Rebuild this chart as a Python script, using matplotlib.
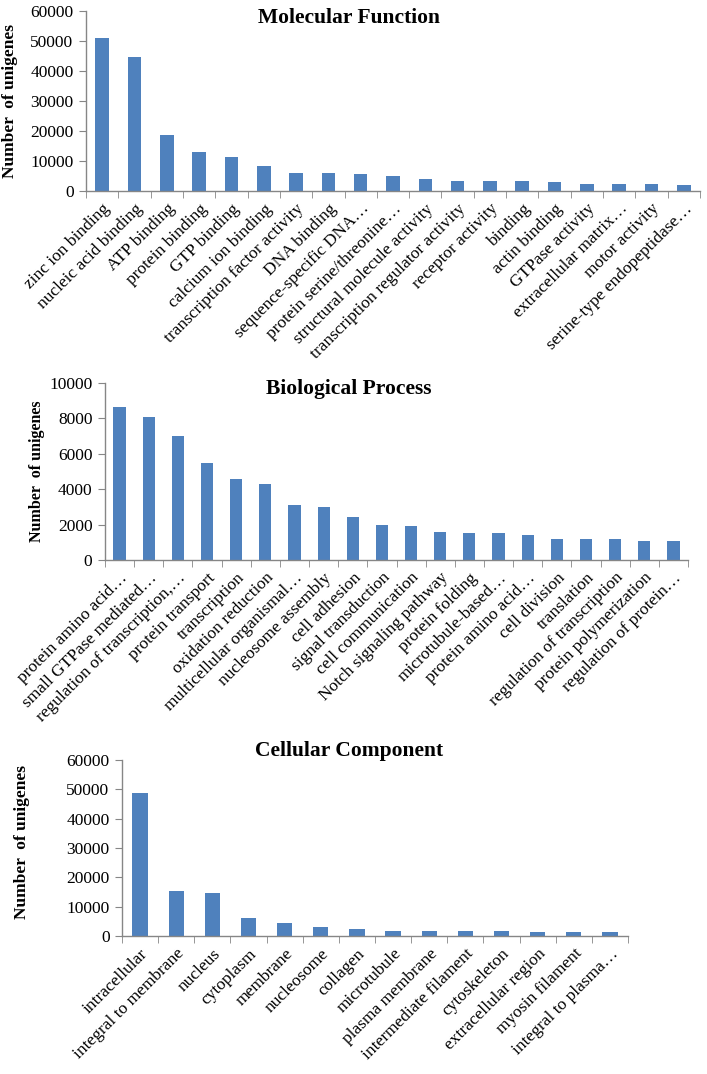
import matplotlib
matplotlib.use('Agg')
import matplotlib.pyplot as plt
import numpy as np

plt.rcParams.update({
    'font.family': ['Liberation Serif', 'DejaVu Serif'],
    'axes.linewidth': 1.0,
})

# Molecular Function
mf_labels = ['zinc ion binding', 'nucleic acid binding', 'ATP binding', 'protein binding',
             'GTP binding', 'calcium ion binding', 'transcription factor activity',
             'DNA binding', 'sequence-specific DNA…', 'protein serine/threonine…',
             'structural molecule activity', 'transcription regulator activity',
             'receptor activity', 'binding', 'actin binding', 'GTPase activity',
             'extracellular matrix…', 'motor activity', 'serine-type endopeptidase…']
mf_values = [51000, 44700, 18800, 12900, 11500, 8300, 6100, 6100, 5600, 5100,
             3900, 3400, 3400, 3400, 2900, 2400, 2400, 2400, 2000]

# Biological Process
bp_labels = ['protein amino acid…', 'small GTPase mediated…', 'regulation of transcription,…',
             'protein transport', 'transcription', 'oxidation reduction',
             'multicellular organismal…', 'nucleosome assembly', 'cell adhesion',
             'signal transduction', 'cell communication', 'Notch signaling pathway',
             'protein folding', 'microtubule-based…', 'protein amino acid…', 'cell division',
             'translation', 'regulation of transcription', 'protein polymerization',
             'regulation of protein…']
bp_values = [8650, 8080, 7020, 5460, 4600, 4320, 3130, 3000, 2430, 2000,
             1940, 1600, 1530, 1530, 1440, 1170, 1170, 1170, 1090, 1090]

# Cellular Component
cc_labels = ['intracellular', 'integral to membrane', 'nucleus', 'cytoplasm', 'membrane',
             'nucleosome', 'collagen', 'microtubule', 'plasma membrane',
             'intermediate filament', 'cytoskeleton', 'extracellular region',
             'myosin filament', 'integral to plasma…']
cc_values = [48800, 15300, 14800, 6000, 4600, 3200, 2300, 1800, 1700, 1700,
             1700, 1300, 1300, 1300]

BAR = '#4F81BD'
GRAY = '#868686'
W, H = 707, 1074

fig = plt.figure(figsize=(W / 100, H / 100), dpi=100)


def px_axes(left, right, top, bottom):
    return fig.add_axes([left / W, 1 - bottom / H, (right - left) / W, (bottom - top) / H])


def draw(ax, labels, values, ymax, step, fs):
    n = len(values)
    x = np.arange(n)
    ax.bar(x, values, width=0.42, color=BAR)
    ax.set_xlim(-0.5, n - 0.5)
    ax.set_ylim(0, ymax)
    ax.set_yticks(np.arange(0, ymax + 1, step))
    ax.set_xticks(x)
    ax.set_xticklabels(labels, rotation=45, ha='right', va='top',
                       rotation_mode='anchor', fontsize=fs)
    ax.set_xticks(np.arange(n + 1) - 0.5, minor=True)
    ax.tick_params(axis='x', which='major', length=0, pad=7)
    ax.tick_params(axis='x', which='minor', length=5, color=GRAY, direction='out')
    ax.tick_params(axis='y', length=5, color=GRAY, labelsize=12.5, pad=4)
    for s in ['top', 'right']:
        ax.spines[s].set_visible(False)
    for s in ['left', 'bottom']:
        ax.spines[s].set_color(GRAY)
    ax.grid(False)


ax1 = px_axes(86, 700, 11, 191)
draw(ax1, mf_labels, mf_values, 60000, 10000, 12.5)
ax2 = px_axes(105, 688, 383, 560)
draw(ax2, bp_labels, bp_values, 10000, 2000, 12.5)
ax3 = px_axes(122, 628, 760, 936)
draw(ax3, cc_labels, cc_values, 60000, 10000, 12.5)

fig.text(349 / W, 1 - 18 / H, 'Molecular Function', ha='center', va='center',
         fontsize=15.5, fontweight='bold')
fig.text(349 / W, 1 - 389 / H, 'Biological Process', ha='center', va='center',
         fontsize=15.5, fontweight='bold')
fig.text(349 / W, 1 - 751 / H, 'Cellular Component', ha='center', va='center',
         fontsize=15.5, fontweight='bold')

fig.text(10 / W, 1 - 101 / H, 'Number  of unigenes', rotation=90, ha='center', va='center',
         fontsize=12.5, fontweight='bold')
fig.text(37 / W, 1 - 471 / H, 'Number  of unigenes', rotation=90, ha='center', va='center',
         fontsize=11.5, fontweight='bold')
fig.text(22 / W, 1 - 842 / H, 'Number  of unigenes', rotation=90, ha='center', va='center',
         fontsize=12.5, fontweight='bold')

fig.savefig('out.png', dpi=100)
